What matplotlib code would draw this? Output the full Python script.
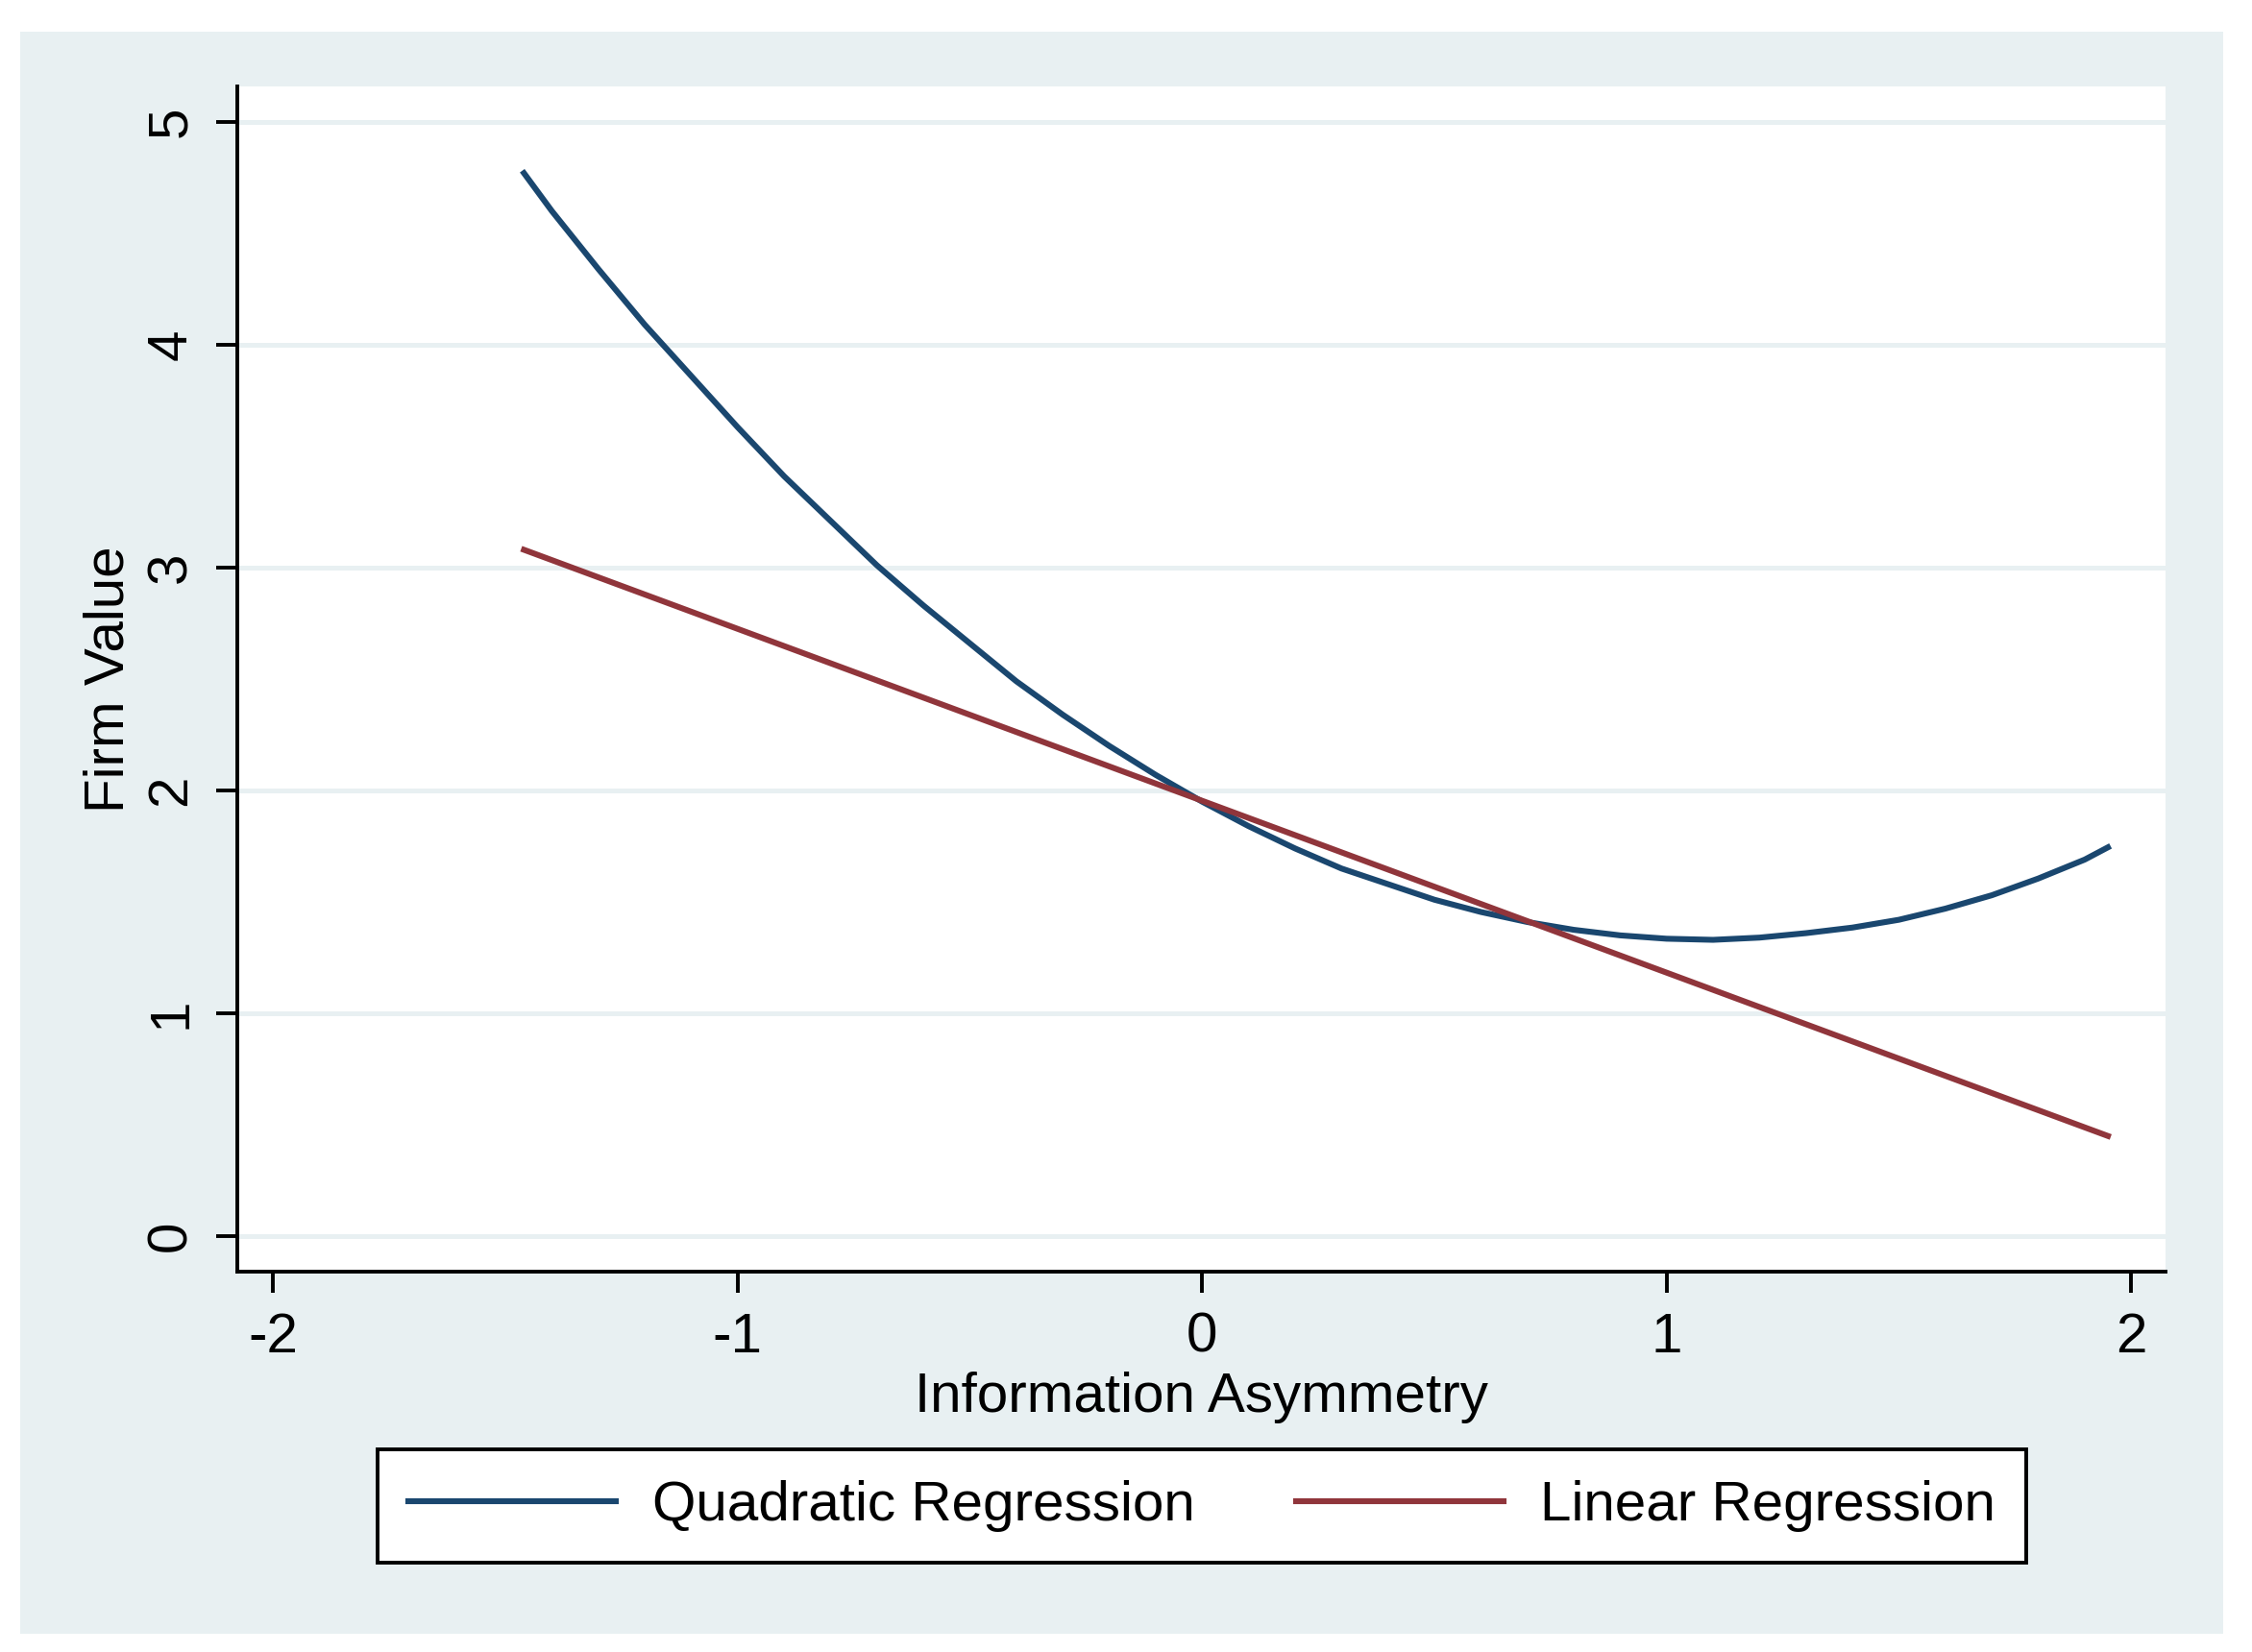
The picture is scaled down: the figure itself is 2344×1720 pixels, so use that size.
import numpy as np
import matplotlib.pyplot as plt
from matplotlib.patches import Rectangle

# values
info_asym = [-1.46, -1.4, -1.3, -1.2, -1.1, -1.0, -0.9, -0.8, -0.7, -0.6, -0.5, -0.4, -0.3, -0.2, -0.1,
             0.0, 0.1, 0.2, 0.3, 0.4, 0.5, 0.6, 0.7, 0.8, 0.9, 1.0, 1.1, 1.2, 1.3, 1.4, 1.5, 1.6, 1.7,
             1.8, 1.9, 1.95]
quad_fit = [4.77, 4.60, 4.34, 4.09, 3.86, 3.63, 3.41, 3.21, 3.01, 2.83, 2.66, 2.49, 2.34, 2.20, 2.07,
            1.95, 1.84, 1.74, 1.65, 1.58, 1.51, 1.455, 1.41, 1.375, 1.35, 1.335, 1.33, 1.34, 1.36, 1.385,
            1.42, 1.47, 1.53, 1.605, 1.69, 1.745]
lin_x = [-1.46, 1.95]
lin_fit = [3.08, 0.45]

x_ticks = [-2, -1, 0, 1, 2]
y_ticks = [0, 1, 2, 3, 4, 5]

navy = '#1a476f'
maroon = '#90353b'
bg = '#e8f0f2'

plt.rcParams['font.family'] = ['Liberation Sans', 'DejaVu Sans']

fig = plt.figure(figsize=(11.72, 8.6), dpi=200)
fig.patch.set_facecolor('white')
fig.add_artist(Rectangle((0.009, 0.011), 0.978, 0.970, transform=fig.transFigure,
                         facecolor=bg, edgecolor='none', zorder=0))

ax = fig.add_axes([0.1054, 0.2302, 0.8562, 0.7175])
ax.set_facecolor('white')
for y in y_ticks:
    ax.axhline(y, color=bg, lw=1.8, zorder=1)

ax.plot(info_asym, quad_fit, color=navy, lw=2.2, label='Quadratic Regression', zorder=3)
ax.plot(lin_x, lin_fit, color=maroon, lw=2.2, label='Linear Regression', zorder=3)

ax.set_xlim(-2.077, 2.074)
ax.set_ylim(-0.159, 5.159)
ax.set_xticks(x_ticks)
ax.set_yticks(y_ticks)
ax.set_xticklabels([str(v) for v in x_ticks])
ax.set_yticklabels([str(v) for v in y_ticks], rotation=90, va='center')

for s in ['top', 'right']:
    ax.spines[s].set_visible(False)
for s in ['left', 'bottom']:
    ax.spines[s].set_linewidth(1.4)
ax.tick_params(length=8, width=1.4, labelsize=21, pad=7)

ax.set_xlabel('Information Asymmetry', fontsize=21, labelpad=3)
ax.set_ylabel('Firm Value', fontsize=21, labelpad=4)

leg = fig.legend(loc='center', bbox_to_anchor=(0.1677, 0.057, 0.732, 0.0628),
                 mode='expand', ncol=2, fontsize=21, handlelength=3.7,
                 handletextpad=0.65, borderpad=0.55, borderaxespad=0, fancybox=False,
                 framealpha=1, edgecolor='black')
leg.get_frame().set_linewidth(1.4)
for line in leg.get_lines():
    line.set_linewidth(2.2)

fig.savefig('out.png', dpi=200, facecolor=fig.get_facecolor())
